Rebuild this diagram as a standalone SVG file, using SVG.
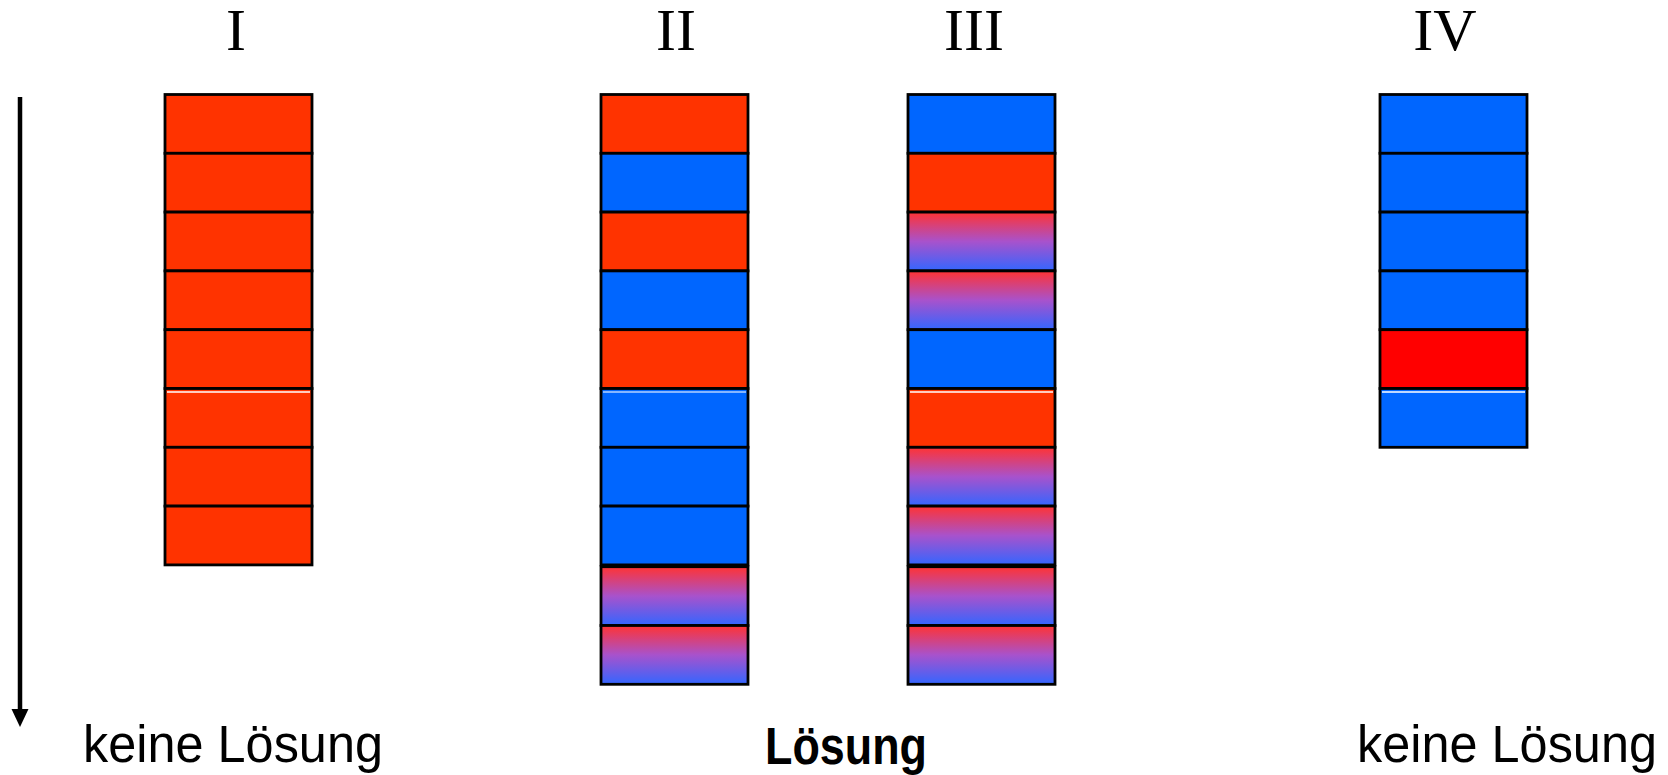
<svg xmlns="http://www.w3.org/2000/svg" width="1668" height="775" viewBox="0 0 1668 775">
<style>
.c rect{stroke:#000;stroke-width:2.8}
.o{fill:#ff3300}
.b{fill:#0066ff}
.r{fill:#ff0000}
.g{fill:url(#grad)}
.w{stroke:#fff;stroke-width:1.5}
.t{font-family:"Liberation Serif","Times New Roman",serif;font-size:60px;text-anchor:middle;fill:#000}
.l{font-family:"Liberation Sans",Arial,sans-serif;font-size:51px;fill:#000}
</style>
<defs>
<linearGradient id="grad" x1="0" y1="0" x2="0" y2="1">
<stop offset="0" stop-color="#ff3333"/>
<stop offset="0.5" stop-color="#a852cc"/>
<stop offset="1" stop-color="#3366ff"/>
</linearGradient>
<marker id="ah" markerWidth="18" markerHeight="18" refX="1" refY="9" orient="auto" markerUnits="userSpaceOnUse">
<path d="M0,0.5 L18,9 L0,17.5 Z" fill="#000"/>
</marker>
</defs>
<g id="titles">
<text class="t" x="236" y="50">I</text>
<text class="t" x="676" y="50">II</text>
<text class="t" x="974" y="50">III</text>
<text class="t" x="1445" y="50">IV</text>
</g>
<g id="col-I" class="c">
<rect class="o" x="165" y="94.5" width="147" height="58.8"/>
<rect class="o" x="165" y="153.3" width="147" height="58.8"/>
<rect class="o" x="165" y="212.1" width="147" height="58.8"/>
<rect class="o" x="165" y="270.9" width="147" height="58.8"/>
<rect class="o" x="165" y="329.7" width="147" height="58.8"/>
<rect class="o" x="165" y="388.5" width="147" height="58.8"/>
<rect class="o" x="165" y="447.3" width="147" height="58.8"/>
<rect class="o" x="165" y="506.1" width="147" height="58.8"/>
<line class="w" x1="167" y1="392" x2="310" y2="392"/>
</g>
<g id="col-II" class="c">
<rect class="o" x="601" y="94.5" width="147" height="58.8"/>
<rect class="b" x="601" y="153.3" width="147" height="58.8"/>
<rect class="o" x="601" y="212.1" width="147" height="58.8"/>
<rect class="b" x="601" y="270.9" width="147" height="58.8"/>
<rect class="o" x="601" y="329.7" width="147" height="58.8"/>
<rect class="b" x="601" y="388.5" width="147" height="58.8"/>
<rect class="b" x="601" y="447.3" width="147" height="58.8"/>
<rect class="b" x="601" y="506.1" width="147" height="58.8"/>
<rect class="g" x="601" y="566.7" width="147" height="58.8"/>
<rect class="g" x="601" y="625.5" width="147" height="58.8"/>
<line class="w" x1="603" y1="392" x2="746" y2="392" stroke-opacity="0.7"/>
</g>
<g id="col-III" class="c">
<rect class="b" x="908" y="94.5" width="147" height="58.8"/>
<rect class="o" x="908" y="153.3" width="147" height="58.8"/>
<rect class="g" x="908" y="212.1" width="147" height="58.8"/>
<rect class="g" x="908" y="270.9" width="147" height="58.8"/>
<rect class="b" x="908" y="329.7" width="147" height="58.8"/>
<rect class="o" x="908" y="388.5" width="147" height="58.8"/>
<rect class="g" x="908" y="447.3" width="147" height="58.8"/>
<rect class="g" x="908" y="506.1" width="147" height="58.8"/>
<rect class="g" x="908" y="566.7" width="147" height="58.8"/>
<rect class="g" x="908" y="625.5" width="147" height="58.8"/>
<line class="w" x1="910" y1="392" x2="1053" y2="392"/>
</g>
<g id="col-IV" class="c">
<rect class="b" x="1380" y="94.5" width="147" height="58.8"/>
<rect class="b" x="1380" y="153.3" width="147" height="58.8"/>
<rect class="b" x="1380" y="212.1" width="147" height="58.8"/>
<rect class="b" x="1380" y="270.9" width="147" height="58.8"/>
<rect class="r" x="1380" y="329.7" width="147" height="58.8"/>
<rect class="b" x="1380" y="388.5" width="147" height="58.8"/>
<line class="w" x1="1382" y1="392" x2="1525" y2="392"/>
</g>
<g id="connectors">
<line x1="20" y1="97" x2="20" y2="710" stroke="#000" stroke-width="4.5" marker-end="url(#ah)"/>
</g>
<g id="labels">
<text class="l" x="83" y="762" textLength="300" lengthAdjust="spacingAndGlyphs">keine Lösung</text>
<text class="l" x="765" y="764" font-weight="bold" textLength="162" lengthAdjust="spacingAndGlyphs">Lösung</text>
<text class="l" x="1357" y="762" textLength="300" lengthAdjust="spacingAndGlyphs">keine Lösung</text>
</g>
</svg>
